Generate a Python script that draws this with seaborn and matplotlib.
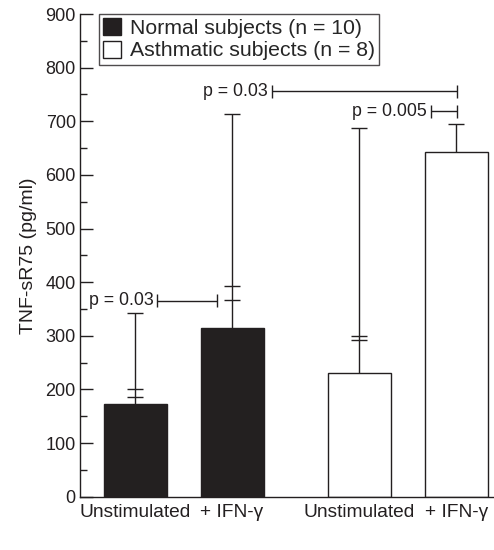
import matplotlib
matplotlib.use("Agg")
import matplotlib.pyplot as plt
from matplotlib.patches import Patch
from matplotlib.ticker import MultipleLocator
import seaborn as sns
import pandas as pd

# values (pg/ml)
groups = ["Normal subjects (n = 10)", "Normal subjects (n = 10)",
          "Asthmatic subjects (n = 8)", "Asthmatic subjects (n = 8)"]
conditions = ["Unstimulated", "+ IFN-\u03b3", "Unstimulated", "+ IFN-\u03b3"]
positions = [0.0, 1.0, 2.31, 3.31]
means = [172, 314, 230, 643]
inner_caps = [[186, 201], [367, 393], [292, 300], []]
bar_tops = [342, 713, 688, 695]

# p-value brackets: label, x start, x end, y
p_labels = ["p = 0.03", "p = 0.03", "p = 0.005"]
p_x0 = [0.23, 1.41, 3.05]
p_x1 = [0.845, 3.32, 3.32]
p_y = [365, 756, 719]

df = pd.DataFrame({"pos": positions, "value": means, "group": groups})

sns.set_style("ticks")
plt.rcParams['font.family'] = ['Liberation Sans', 'DejaVu Sans']

fig = plt.figure(figsize=(4.94, 5.5), dpi=100)
ax = fig.add_axes([0.162, 0.097, 0.838, 0.8775])

dark = "#231f20"
pal = {groups[0]: dark, groups[2]: "white"}
sns.barplot(data=df, x="pos", y="value", hue="group", native_scale=True,
            dodge=False, palette=pal, width=0.65, edgecolor=dark,
            linewidth=1.0, errorbar=None, ax=ax, legend=False)

# error bars
cap_hw = 0.08
for x, m, caps, top in zip(positions, means, inner_caps, bar_tops):
    ax.vlines(x, m, top, color=dark, lw=1.0)
    ax.hlines(caps + [top], x - cap_hw, x + cap_hw, color=dark, lw=1.0)

# significance brackets
tick_h = 12
for lab, x0, x1, y in zip(p_labels, p_x0, p_x1, p_y):
    ax.hlines(y, x0, x1, color=dark, lw=1.0)
    ax.vlines([x0, x1], y - tick_h, y + tick_h, color=dark, lw=1.0)
    ax.text(x0 - 0.04, y, lab, ha="right", va="center", fontsize=12.8, color=dark)

ax.set_xlim(-0.567, 3.70)
ax.set_ylim(0, 900)
ax.yaxis.set_major_locator(MultipleLocator(100))
ax.yaxis.set_minor_locator(MultipleLocator(50))
ax.tick_params(axis="y", which="major", direction="in", length=9, width=1,
               labelsize=13, pad=3, colors=dark)
ax.tick_params(axis="y", which="minor", direction="in", length=5, width=1,
               colors=dark)
ax.set_xticks(positions)
ax.set_xticklabels(conditions, fontsize=13.8, color=dark)
ax.tick_params(axis="x", length=0, pad=5)
ax.set_xlabel("")
ax.set_ylabel("TNF-sR75 (pg/ml)", fontsize=14, color=dark, labelpad=6)

for side in ["top", "right"]:
    ax.spines[side].set_visible(False)
for side in ["left", "bottom"]:
    ax.spines[side].set_color(dark)
    ax.spines[side].set_linewidth(1.0)

handles = [Patch(facecolor=dark, edgecolor=dark, label=groups[0]),
           Patch(facecolor="white", edgecolor=dark, label=groups[2])]
leg = ax.legend(handles=handles, loc="upper left", bbox_to_anchor=(0.046, 1.0),
                fontsize=15.3, frameon=True, fancybox=False, handlelength=0.85,
                handleheight=0.85, handletextpad=0.4, borderpad=0.2,
                labelspacing=0.12, borderaxespad=0)
leg.get_frame().set_edgecolor(dark)
leg.get_frame().set_linewidth(1.0)

fig.savefig("out.png", dpi=100)
